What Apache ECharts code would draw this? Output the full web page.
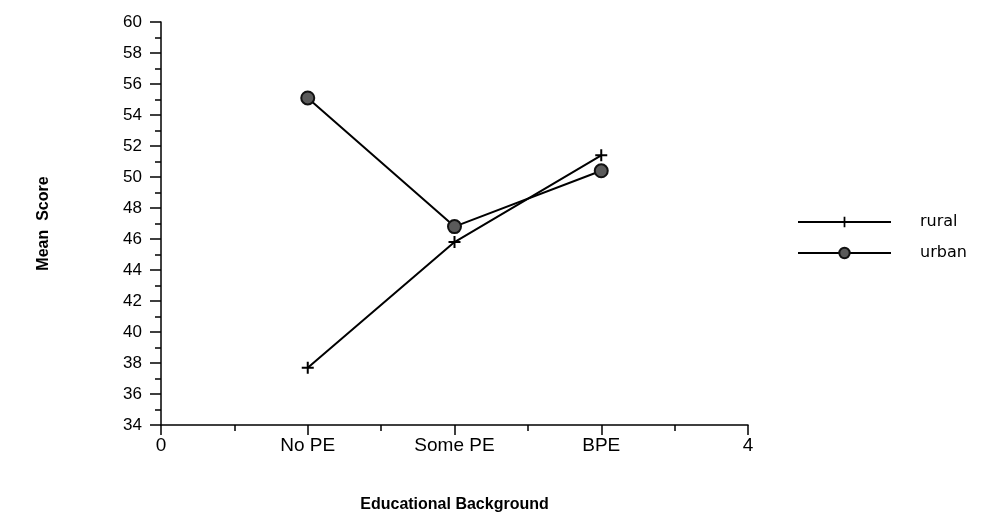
<!DOCTYPE html>
<html>
<head>
<meta charset="utf-8">
<script src="https://cdn.jsdelivr.net/npm/echarts@6/dist/echarts.min.js"></script>
<style>
  html, body { margin: 0; padding: 0; background: #fff; }
  #chart { width: 988px; height: 518px; }
</style>
</head>
<body>
<div id="chart"></div>
<script>
    'use strict';

    // positions 1..3 on the x axis
    var categories = ['No PE', 'Some PE', 'BPE'];
    var xTickLabels = ['0', 'No PE', 'Some PE', 'BPE', '4'];
    var rural = [37.7, 45.8, 51.4];
    var urban = [55.1, 46.8, 50.4];

    var plusPath = 'path://M5,0 H7 V5 H12 V7 H7 V12 H5 V7 H0 V5 H5 Z';
    var font = 'Liberation Sans, Arial, sans-serif';
    var wideFont = 'DejaVu Sans, Verdana, sans-serif';

    function toPoints(values) {
        return values.map(function (v, i) {
            return [i + 1, v];
        });
    }

    var chart = echarts.init(document.getElementById('chart'), null, { renderer: 'canvas' });

    var option = {
        animation: false,
        backgroundColor: '#fff',
        grid: { left: 161, right: 240, top: 22, bottom: 84, containLabel: false },
        xAxis: {
            type: 'value',
            min: 0,
            max: 4,
            interval: 1,
            name: 'Educational Background',
            nameLocation: 'middle',
            nameGap: 72,
            nameTextStyle: { fontFamily: font, fontSize: 16, fontWeight: 'bold', color: '#000' },
            axisLine: { onZero: false, lineStyle: { color: '#000', width: 1.5 } },
            axisTick: { show: true, length: 10, lineStyle: { color: '#000', width: 1.5 } },
            minorTick: { show: true, splitNumber: 2, length: 6, lineStyle: { color: '#000', width: 1.5 } },
            axisLabel: {
                margin: 11,
                fontFamily: font,
                fontSize: 19,
                color: '#000',
                formatter: function (v) { return xTickLabels[Math.round(v)]; }
            },
            splitLine: { show: false }
        },
        yAxis: {
            type: 'value',
            min: 34,
            max: 60,
            interval: 2,
            name: 'Mean  Score',
            nameLocation: 'middle',
            nameGap: 109,
            nameRotate: 90,
            nameTextStyle: { fontFamily: font, fontSize: 16, fontWeight: 'bold', color: '#000' },
            axisLine: { lineStyle: { color: '#000', width: 1.5 } },
            axisTick: { show: true, length: 11, lineStyle: { color: '#000', width: 1.5 } },
            minorTick: { show: true, splitNumber: 2, length: 6, lineStyle: { color: '#000', width: 1.5 } },
            axisLabel: { margin: 19, fontFamily: font, fontSize: 17, color: '#000' },
            splitLine: { show: false }
        },
        legend: {
            orient: 'vertical',
            left: 797,
            top: 214,
            padding: 0,
            itemWidth: 93,
            itemHeight: 13,
            itemGap: 15,
            textStyle: { fontFamily: wideFont, fontSize: 16, color: '#000', padding: [0, 0, 0, 24] },
            data: ['rural', 'urban']
        },
        series: [
            {
                name: 'rural',
                type: 'line',
                data: toPoints(rural),
                symbol: plusPath,
                symbolSize: 12,
                lineStyle: { color: '#000', width: 2 },
                itemStyle: { color: '#000', borderWidth: 0 }
            },
            {
                name: 'urban',
                type: 'line',
                data: toPoints(urban),
                symbol: 'circle',
                symbolSize: 13,
                lineStyle: { color: '#000', width: 2 },
                itemStyle: { color: '#5a5a5a', borderColor: '#111', borderWidth: 2 }
            }
        ]
    };

    chart.setOption(option);
</script>
</body>
</html>
